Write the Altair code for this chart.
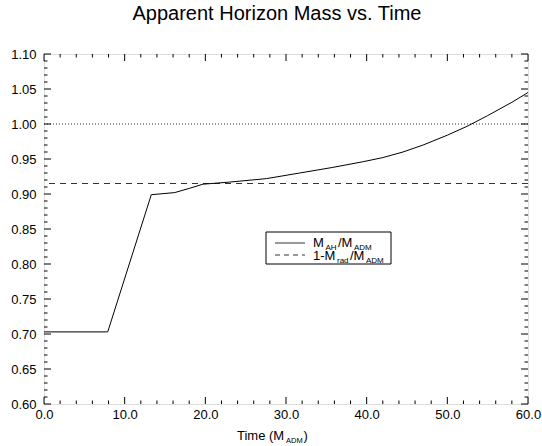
import altair as alt
import pandas as pd

# ---- data ----
time_vals = [0.0, 7.9, 13.3, 16.2, 18.0, 19.7, 23.0, 27.6, 31.7, 35.8, 39.5, 42.0, 44.5, 47.0, 50.0, 52.5, 55.0, 58.0, 60.0]
mass_vals = [0.703, 0.703, 0.899, 0.902, 0.908, 0.914, 0.917, 0.922, 0.930, 0.938, 0.946, 0.952, 0.960, 0.970, 0.984, 0.997, 1.012, 1.031, 1.045]
rad_level = [0.915]
unity_level = [1.00]

x_major = [0, 10, 20, 30, 40, 50, 60]
x_minor = [2, 4, 6, 8, 12, 14, 16, 18, 22, 24, 26, 28, 32, 34, 36, 38, 42, 44, 46, 48, 52, 54, 56, 58]
y_major = [0.60, 0.65, 0.70, 0.75, 0.80, 0.85, 0.90, 0.95, 1.00, 1.05, 1.10]
y_minor = [round(0.60 + 0.01 * i, 2) for i in range(51) if i % 5 != 0]

W, H = 484, 350
FONT = "Liberation Sans"

xs = alt.Scale(domain=[0, 60], nice=False, zero=False)
ys = alt.Scale(domain=[0.6, 1.1], nice=False, zero=False)

curve = pd.DataFrame({"t": time_vals, "m": mass_vals})

XAX = dict(values=x_major, format=".1f", ticks=False, domain=False, grid=False,
           labelFont=FONT, labelFontSize=13, labelColor="black", labelPadding=4,
           labelOverlap=False, labelFlush=False, title=None)
YAX = dict(values=y_major, format=".2f", ticks=False, domain=False, grid=False,
           labelFont=FONT, labelFontSize=13, labelColor="black", labelPadding=8,
           labelOverlap=False, labelFlush=False, title=None)

def X(field):
    return alt.X(field, scale=xs, axis=alt.Axis(**XAX))

def Y(field):
    return alt.Y(field, scale=ys, axis=alt.Axis(**YAX))

line = alt.Chart(curve).mark_line(color="black", strokeWidth=1).encode(
    x=X("t:Q"), y=Y("m:Q"))

dashed = alt.Chart(pd.DataFrame({"v": rad_level})).mark_rule(
    color="black", strokeWidth=0.8, strokeDash=[6, 5]
).encode(y=Y("v:Q"))

dotted = alt.Chart(pd.DataFrame({"v": unity_level})).mark_rule(
    color="black", strokeWidth=0.8, strokeDash=[1, 2]
).encode(y=Y("v:Q"))

# inward ticks on all four sides
def xticks(vals, size):
    df = pd.DataFrame({"v": vals})
    bottom = alt.Chart(df).mark_rule(color="black", strokeWidth=1).encode(
        x=X("v:Q"), y=alt.value(H), y2=alt.value(H - size))
    top = alt.Chart(df).mark_rule(color="black", strokeWidth=1).encode(
        x=X("v:Q"), y=alt.value(0), y2=alt.value(size))
    return [bottom, top]

def yticks(vals, size):
    df = pd.DataFrame({"v": vals})
    left = alt.Chart(df).mark_rule(color="black", strokeWidth=1).encode(
        y=Y("v:Q"), x=alt.value(0), x2=alt.value(size))
    right = alt.Chart(df).mark_rule(color="black", strokeWidth=1).encode(
        y=Y("v:Q"), x=alt.value(W), x2=alt.value(W - size))
    return [left, right]

tick_layers = xticks(x_major, 7) + xticks(x_minor, 3.5) + yticks(y_major, 7) + yticks(y_minor, 3.5)

one = pd.DataFrame({"a": [0]})

def txt(s, x, y, size, align="left", weight="normal"):
    return alt.Chart(one).mark_text(
        text=s, font=FONT, fontSize=size, fontWeight=weight, color="black",
        align=align, baseline="alphabetic"
    ).encode(x=alt.value(x), y=alt.value(y))

# legend box (manual, with subscripts)
LX0, LX1, LY0, LY1 = 222, 347, 178, 210
legend_box = alt.Chart(one).mark_rect(fill="white", stroke="black", strokeWidth=1).encode(
    x=alt.value(LX0), x2=alt.value(LX1), y=alt.value(LY0), y2=alt.value(LY1))
leg_solid = alt.Chart(one).mark_rule(color="black", strokeWidth=0.8).encode(
    x=alt.value(231), x2=alt.value(261), y=alt.value(189))
leg_dash = alt.Chart(one).mark_rule(color="black", strokeWidth=0.8, strokeDash=[5, 4]).encode(
    x=alt.value(231), x2=alt.value(261), y=alt.value(201))

tx = 269
row1 = [
    txt("M", tx, 193, 13),
    txt("AH", tx + 12.5, 196, 8),
    txt("/M", tx + 25, 193, 13),
    txt("ADM", tx + 41, 196, 8),
]
row2 = [
    txt("1-M", tx, 205.5, 13),
    txt("rad", tx + 24, 208.5, 8),
    txt("/M", tx + 37, 205.5, 13),
    txt("ADM", tx + 53, 208.5, 8),
]

# x-axis title with subscript
ax0 = 193
axis_title = [
    txt("Time (M", ax0, 386, 13),
    txt("ADM", ax0 + 49, 389, 7.5),
    txt(")", ax0 + 66.5, 386, 13),
]

title = txt("Apparent Horizon Mass vs. Time", 233, -34, 20, align="center")

chart = alt.layer(
    line, dotted, dashed, *tick_layers,
    legend_box, leg_solid, leg_dash, *row1, *row2, *axis_title, title
).properties(
    width=W, height=H,
    autosize=alt.AutoSizeParams(type="none"),
    padding={"left": 44, "top": 54, "right": 14, "bottom": 42},
).configure_view(stroke="black", strokeWidth=1).configure(background="white")

chart.save("out.html", embed_options={"renderer": "svg", "actions": False})
